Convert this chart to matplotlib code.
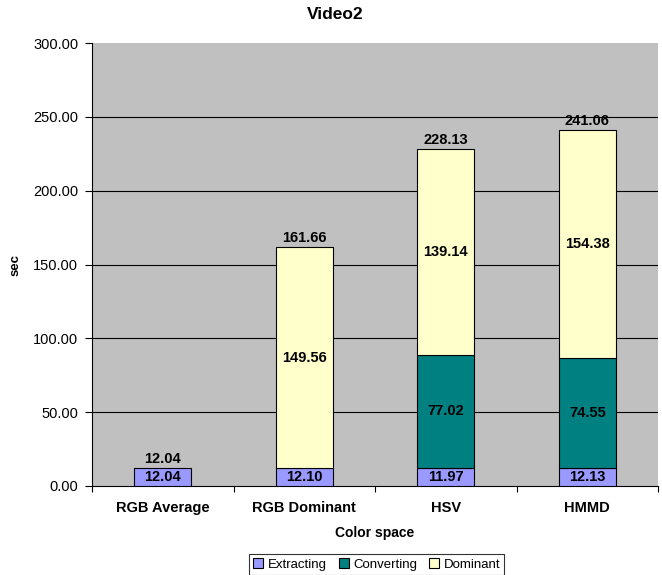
import matplotlib
matplotlib.use("Agg")
import matplotlib.pyplot as plt
from matplotlib.patches import Patch
import numpy as np

plt.rcParams['font.family'] = ['Liberation Sans', 'DejaVu Sans']

categories = ["RGB Average", "RGB Dominant", "HSV", "HMMD"]
extracting = [12.04, 12.10, 11.97, 12.13]
converting = [0.0, 0.0, 77.02, 74.55]
dominant = [0.0, 149.56, 139.14, 154.38]
totals = [12.04, 161.66, 228.13, 241.06]
series_names = ["Extracting", "Converting", "Dominant"]
colors = ["#9999FF", "#008080", "#FFFFCC"]

fig = plt.figure(figsize=(6.62, 5.75), dpi=100)
ax = fig.add_axes([0.139, 0.155, 0.855, 0.770])
ax.set_facecolor("#C0C0C0")

x = np.arange(len(categories))
w = 0.40
bottom = np.zeros(len(categories))
for vals, c in zip([extracting, converting, dominant], colors):
    v = np.array(vals)
    mask = v > 0
    ax.bar(x[mask], v[mask], w, bottom=bottom[mask], color=c, edgecolor="black",
           linewidth=0.8, zorder=3)
    for xi, b, vi in zip(x[mask], bottom[mask], v[mask]):
        ax.text(xi, b + vi / 2, f"{vi:.2f}", ha="center", va="center",
                fontsize=10.5, fontweight="bold", zorder=4)
    bottom = bottom + v

for xi, t in zip(x, totals):
    ax.text(xi, t + 1.5, f"{t:.2f}", ha="center", va="bottom",
            fontsize=10.5, fontweight="bold", zorder=4)

ax.set_xlim(-0.5, len(categories) - 0.5)
ax.set_ylim(0, 300)
ax.set_yticks(np.arange(0, 301, 50))
ax.set_yticklabels([f"{v:.2f}" for v in np.arange(0, 301, 50)], fontsize=10.5)
for yv in range(50, 300, 50):
    ax.axhline(yv, color="black", linewidth=0.8, zorder=1)

ax.set_xticks(x)
ax.set_xticklabels(categories, fontsize=10.5, fontweight="bold")
ax.tick_params(axis="x", which="major", length=0, pad=11)
ax.set_xticks(np.arange(-0.5, len(categories), 1.0), minor=True)
ax.tick_params(axis="x", which="minor", length=4, direction="out", width=0.8)
ax.tick_params(axis="y", length=5, direction="out", width=0.8, pad=5)

for s in ["top", "right"]:
    ax.spines[s].set_visible(False)
ax.spines["left"].set_linewidth(0.8)
ax.spines["bottom"].set_linewidth(0.8)

ax.set_ylabel("sec", fontsize=9.5, fontweight="bold", labelpad=8)
ax.set_xlabel("Color space", fontsize=10, fontweight="bold", labelpad=8)
fig.text(0.506, 0.974, "Video2", ha="center", va="center", fontsize=12.5, fontweight="bold")

handles = [Patch(facecolor=c, edgecolor="black", linewidth=0.8) for c in colors]
leg = fig.legend(handles, series_names, loc="center", bbox_to_anchor=(0.569, 0.018),
                 ncol=3, fontsize=9.5, frameon=True, fancybox=False,
                 handlelength=0.75, handleheight=0.75, handletextpad=0.35,
                 columnspacing=0.9, borderpad=0.3, borderaxespad=0)
leg.get_frame().set_edgecolor("black")
leg.get_frame().set_linewidth(0.8)

fig.savefig("out.png", dpi=100, facecolor="white")
